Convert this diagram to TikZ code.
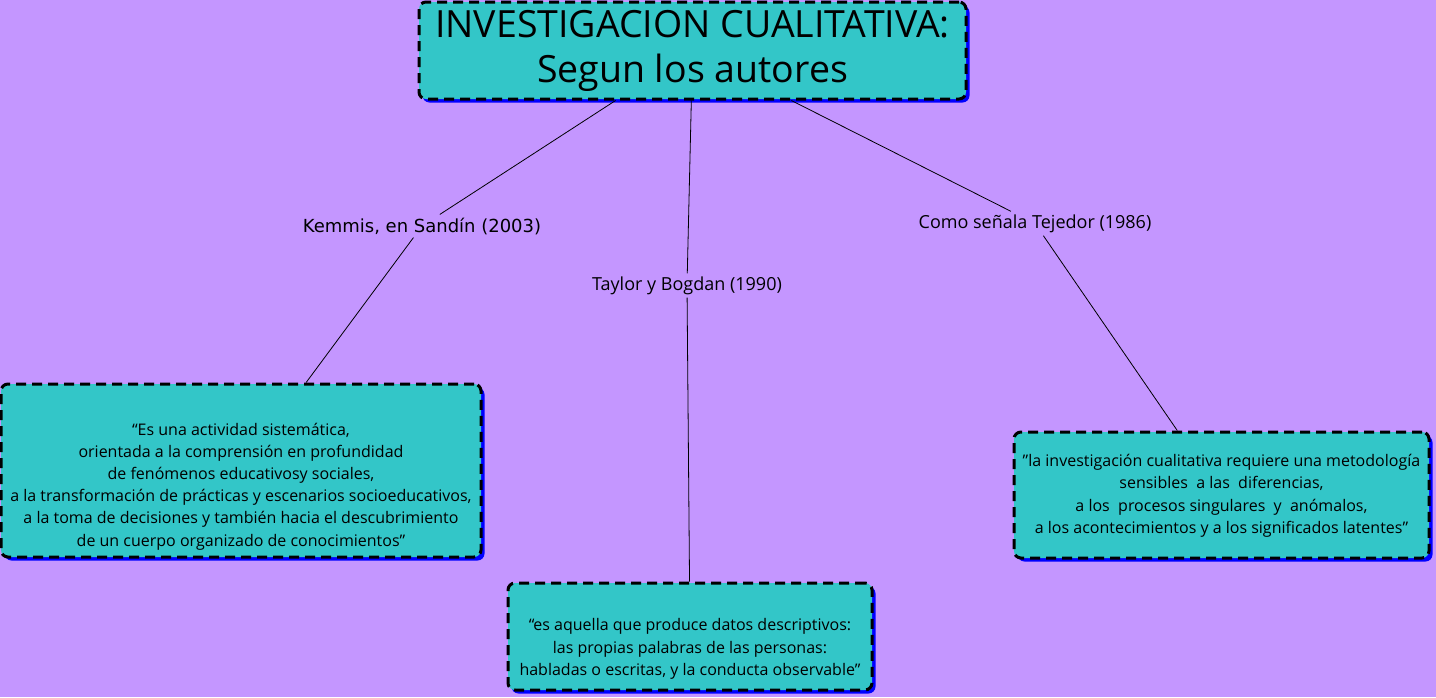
\documentclass[tikz,border=0pt]{standalone}
\usepackage{fontspec}
\setmainfont{Open Sans}
\newfontfamily\verd{DejaVu Sans}
\usetikzlibrary{shadows}
\definecolor{bgp}{HTML}{C496FF}
\definecolor{boxc}{HTML}{33C6C8}
\newcommand\padtop[1]{\rule{0pt}{#1}}
\newcommand\padbot[1]{\rule[-#1]{0pt}{#1}}
\begin{document}
\begin{tikzpicture}[x=1pt,y=-1pt,
  cbox/.style={draw=black, line width=3pt, dash pattern=on 10pt off 6pt,
    fill=boxc, rounded corners=7pt, align=center, inner sep=0pt,
    drop shadow={shadow xshift=3.5pt, shadow yshift=-3.5pt, fill=blue, opacity=1}},
  bodytxt/.style={font=\fontsize{16}{22.2}\selectfont},
  lbl/.style={inner sep=3pt, font=\fontsize{18}{20}\selectfont},
  conn/.style={draw=black, line width=0.8pt}]
\fill[bgp] (0,0) rectangle (1436,697);
\useasboundingbox (0,0) rectangle (1436,697);

\node[cbox, minimum width=547pt, minimum height=97pt,
  font=\fontsize{37.5}{45}\selectfont] (title) at (692.5,50.5)
  {\padtop{35pt}INVESTIGACION CUALITATIVA:\\Segun los autores\padbot{16pt}};

\node[lbl, font=\verd\fontsize{18}{20}\selectfont] (kem) at (422,226) {Kemmis, en Sandín (2003)};
\node[lbl] (tay) at (687,285.5) {Taylor y Bogdan (1990)};
\node[lbl] (tej) at (1035,223.5) {Como señala Tejedor (1986)};

\node[cbox, bodytxt, minimum width=480pt, minimum height=173pt] (lbox) at (241,470.5)
  {\padtop{45pt}“Es una actividad sistemática,\\
   orientada a la comprensión en profundidad\\
   de fenómenos educativosy sociales,\\
   a la transformación de prácticas y escenarios socioeducativos,\\
   a la toma de decisiones y también hacia el descubrimiento\\
   de un cuerpo organizado de conocimientos”\padbot{5pt}};

\node[cbox, bodytxt, minimum width=364pt, minimum height=107pt] (bbox) at (690,636.5)
  {\padtop{38pt}“es aquella que produce datos descriptivos:\\
   las propias palabras de las personas:\\
   habladas o escritas, y la conducta observable”\padbot{5pt}};

\node[cbox, bodytxt, minimum width=415pt, minimum height=126pt] (rbox) at (1221.5,495)
  {\padtop{15pt}"la investigación cualitativa requiere una metodología\\
   sensibles \ a las \ diferencias,\\
   a los \ procesos singulares \ y \ anómalos,\\
   a los acontecimientos y a los significados latentes"\padbot{5pt}};

\draw[conn] (title) -- (kem);
\draw[conn] (kem) -- (lbox);
\draw[conn] (title) -- (tay);
\draw[conn] (tay) -- (bbox);
\draw[conn] (title) -- (tej);
\draw[conn] (tej) -- (rbox);
\end{tikzpicture}
\end{document}
